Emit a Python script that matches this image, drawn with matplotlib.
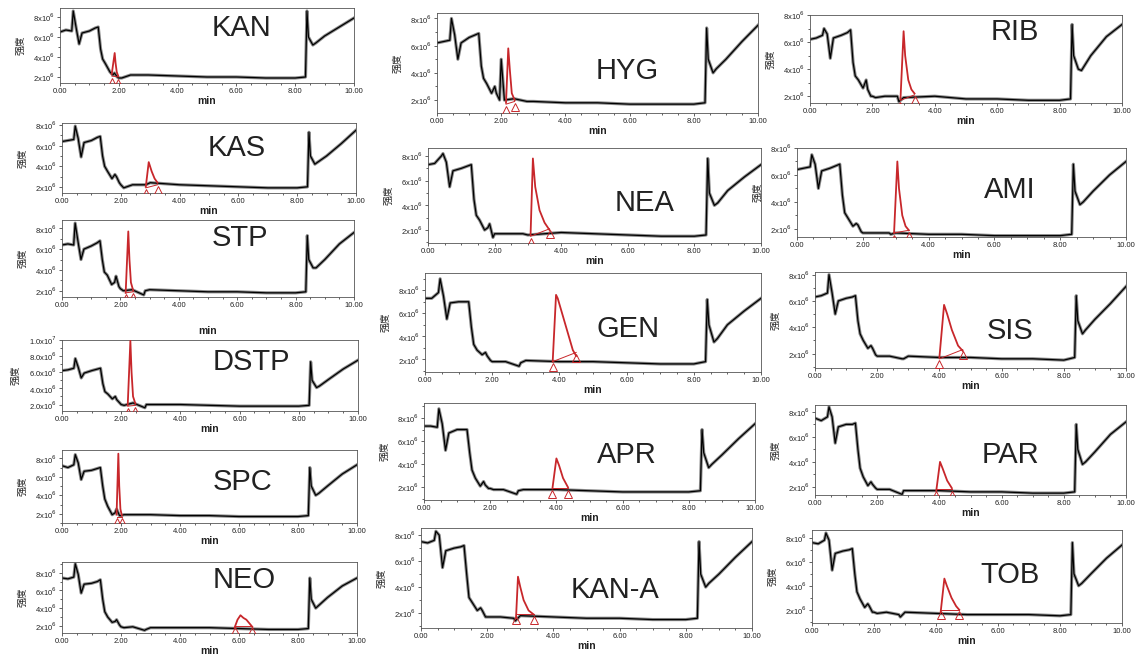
import numpy as np
import matplotlib
matplotlib.use("Agg")
import matplotlib.pyplot as plt
import matplotlib.transforms as mtransforms
from matplotlib.ticker import MultipleLocator

plt.rcParams['font.family'] = ['Liberation Sans', 'Noto Sans CJK SC']

W, H = 1138, 656

# retention time grid shared by all traces (min)
T = [0.0, 0.2, 0.4, 0.45, 0.55, 0.65, 0.75, 1.0, 1.2, 1.3, 1.38, 1.45, 1.55, 1.7, 1.8, 1.85,
     1.95, 2.0, 2.1, 2.4, 2.8, 2.85, 3.0, 4.0, 5.0, 6.0, 7.0, 8.0, 8.35, 8.4, 8.45, 8.6, 8.7,
     9.0, 9.5, 10.0]

# intensities below are in units of 1e6
KAN_Y = [6.5, 6.7, 6.6, 8.6, 6.9, 5.3, 6.4, 6.6, 6.9, 7.0, 4.8, 3.8, 3.3, 2.5, 2.2, 2.4, 2.0, 1.9,
         1.9, 2.2, 2.2, 2.2, 2.2, 2.1, 2.0, 2.0, 1.9, 1.9, 2.0, 8.6, 6.0, 5.2, 5.4, 6.1, 7.0, 7.9]
KAN_PEAK_T = [1.76, 1.86, 1.89, 1.93, 1.98]
KAN_PEAK_Y = [2.3, 4.4, 3.4, 2.5, 2.1]
KAN_BASE = [2.1, 2.0]

KAS_Y = [6.4, 6.5, 6.6, 7.9, 6.7, 4.9, 6.3, 6.5, 6.8, 6.9, 5.0, 4.0, 3.5, 2.8, 3.2, 3.0, 2.4, 2.2,
         1.9, 2.2, 2.2, 2.2, 2.4, 2.2, 2.1, 2.0, 1.9, 1.9, 2.0, 7.3, 5.0, 4.2, 4.4, 5.0, 6.2, 7.5]
KAS_PEAK_T = [2.85, 2.95, 3.05, 3.15, 3.25]
KAS_PEAK_Y = [2.0, 4.4, 3.5, 2.8, 2.4]
KAS_BASE = [1.9, 2.2]

STP_Y = [6.4, 6.5, 6.4, 8.5, 6.7, 5.0, 6.0, 6.3, 6.6, 6.8, 5.0, 3.8, 3.5, 2.6, 2.8, 3.4, 2.4, 2.2,
         2.0, 2.1, 1.6, 2.0, 2.1, 2.0, 1.9, 1.9, 1.8, 1.8, 1.9, 7.3, 5.0, 4.2, 4.2, 5.0, 6.5, 7.6]
STP_PEAK_T = [2.18, 2.27, 2.31, 2.36, 2.44]
STP_PEAK_Y = [1.8, 7.7, 5.0, 2.8, 2.0]
STP_BASE = [1.8, 1.9]

DSTP_Y = [6.2, 6.3, 6.5, 7.7, 6.6, 5.3, 5.9, 6.2, 6.4, 6.5, 4.6, 3.6, 3.3, 2.7, 3.0, 2.6, 2.2, 2.0,
          1.9, 2.2, 1.6, 2.0, 2.0, 2.0, 1.9, 1.8, 1.8, 1.8, 1.9, 7.3, 5.0, 4.1, 4.3, 5.1, 6.4, 7.5]
DSTP_PEAK_T = [2.22, 2.31, 2.35, 2.40, 2.48]
DSTP_PEAK_Y = [1.9, 9.9, 6.0, 3.0, 2.1]
DSTP_BASE = [1.8, 1.9]

SPC_Y = [7.2, 7.0, 7.3, 8.4, 7.5, 5.7, 6.6, 6.7, 6.9, 7.0, 5.0, 3.6, 2.8, 1.9, 2.1, 2.5, 1.8, 1.8,
         1.9, 1.9, 1.9, 1.9, 1.9, 1.8, 1.8, 1.7, 1.7, 1.7, 1.8, 7.0, 5.0, 4.0, 4.2, 5.0, 6.3, 7.3]
SPC_PEAK_T = [1.85, 1.91, 1.94, 1.98, 2.03]
SPC_PEAK_Y = [1.9, 8.5, 5.0, 2.5, 1.8]
SPC_BASE = [1.7, 1.7]

NEO_Y = [7.4, 7.3, 7.5, 9.0, 7.8, 5.7, 6.7, 6.8, 7.0, 7.2, 5.0, 3.6, 3.0, 2.4, 2.5, 2.7, 2.1, 1.9,
         1.8, 1.9, 1.5, 1.6, 1.8, 1.8, 1.8, 1.7, 1.6, 1.6, 1.7, 7.4, 5.0, 4.0, 4.3, 5.2, 6.5, 7.4]
NEO_PEAK_T = [5.85, 5.95, 6.05, 6.15, 6.25, 6.35, 6.45]
NEO_PEAK_Y = [1.8, 2.7, 3.2, 2.9, 2.7, 2.3, 1.9]
NEO_BASE = [2.0, 2.0]

HYG_Y = [6.2, 6.3, 6.4, 8.0, 6.8, 5.0, 6.2, 6.6, 6.8, 6.9, 4.5, 3.6, 3.2, 2.5, 3.0, 2.5, 2.0, 5.0,
         2.0, 2.1, 1.9, 1.9, 1.9, 1.8, 1.8, 1.7, 1.7, 1.7, 1.8, 7.3, 5.0, 4.0, 4.3, 5.0, 6.3, 7.5]
HYG_PEAK_T = [2.15, 2.22, 2.27, 2.33, 2.42]
HYG_PEAK_Y = [1.8, 5.8, 4.2, 2.5, 2.0]
HYG_BASE = [1.7, 1.9]

NEA_Y = [7.3, 7.4, 8.0, 8.2, 7.5, 5.5, 6.8, 7.0, 7.2, 7.3, 4.5, 3.2, 2.8, 2.0, 2.2, 2.5, 1.4, 1.7,
         1.7, 1.7, 1.7, 1.7, 1.6, 1.8, 1.7, 1.6, 1.5, 1.5, 1.6, 7.8, 5.0, 4.0, 4.2, 5.2, 6.3, 7.3]
NEA_PEAK_T = [3.08, 3.15, 3.22, 3.35, 3.5, 3.65]
NEA_PEAK_Y = [1.6, 7.8, 5.5, 3.6, 2.6, 2.0]
NEA_BASE = [1.5, 2.1]

GEN_Y = [7.3, 7.3, 7.8, 9.0, 7.5, 5.5, 6.9, 7.0, 7.0, 7.0, 4.8, 3.3, 2.8, 2.4, 2.6, 2.3, 1.9, 1.8,
         1.8, 1.8, 1.4, 1.7, 1.9, 1.8, 1.8, 1.7, 1.6, 1.6, 1.8, 7.2, 5.0, 3.5, 3.8, 5.0, 6.2, 7.3]
GEN_PEAK_T = [3.8, 3.9, 3.95, 4.1, 4.25, 4.4, 4.5]
GEN_PEAK_Y = [1.8, 7.6, 7.3, 5.8, 4.3, 2.8, 2.3]
GEN_BASE = [1.8, 2.6]

APR_Y = [7.3, 7.3, 7.2, 8.8, 7.5, 5.2, 6.7, 7.0, 7.0, 7.0, 5.0, 3.5, 2.8, 2.1, 2.5, 2.2, 1.9, 1.9,
         1.8, 1.8, 1.4, 1.7, 1.8, 1.8, 1.7, 1.6, 1.6, 1.6, 1.7, 7.0, 5.0, 3.7, 4.0, 4.8, 6.2, 7.5]
APR_PEAK_T = [3.88, 4.0, 4.08, 4.2, 4.35]
APR_PEAK_Y = [1.9, 4.5, 3.9, 2.8, 2.0]
APR_BASE = [1.9, 1.9]

KANA_Y = [7.5, 7.4, 7.6, 8.3, 8.0, 5.5, 6.8, 7.0, 7.1, 7.2, 5.0, 3.2, 2.8, 2.2, 2.4, 2.2, 1.7, 1.7,
          1.7, 1.7, 1.6, 1.4, 1.8, 1.7, 1.6, 1.6, 1.5, 1.5, 1.6, 7.5, 5.0, 4.0, 4.3, 5.0, 6.3, 7.5]
KANA_PEAK_T = [2.87, 2.93, 3.0, 3.1, 3.25, 3.4]
KANA_PEAK_Y = [1.6, 4.8, 4.0, 3.0, 2.2, 1.9]
KANA_BASE = [1.9, 1.9]

RIB_Y = [6.2, 6.3, 6.5, 7.0, 6.6, 4.8, 6.3, 6.5, 6.7, 6.9, 4.5, 3.5, 3.2, 2.6, 3.2, 2.5, 2.0, 2.0,
         1.9, 2.0, 2.0, 1.6, 1.9, 2.0, 1.8, 1.8, 1.7, 1.7, 1.8, 7.3, 5.0, 4.0, 3.9, 5.0, 6.4, 7.3]
RIB_PEAK_T = [2.9, 3.0, 3.05, 3.15, 3.25, 3.35]
RIB_PEAK_Y = [1.8, 6.8, 5.0, 3.2, 2.5, 2.2]
RIB_BASE = [1.7, 2.1]

AMI_Y = [6.4, 6.5, 6.6, 7.5, 6.8, 5.0, 6.3, 6.5, 6.7, 6.8, 4.5, 3.2, 2.8, 2.2, 2.4, 2.3, 1.8, 1.7,
         1.7, 1.7, 1.7, 1.6, 1.7, 1.6, 1.6, 1.5, 1.5, 1.5, 1.6, 6.8, 4.8, 3.8, 4.0, 4.8, 6.0, 7.0]
AMI_PEAK_T = [2.95, 3.05, 3.1, 3.2, 3.3, 3.4]
AMI_PEAK_Y = [1.7, 7.0, 5.0, 3.0, 2.2, 1.9]
AMI_BASE = [1.7, 1.9]

SIS_Y = [6.3, 6.4, 6.6, 8.0, 6.6, 5.0, 6.0, 6.2, 6.3, 6.4, 4.5, 3.5, 3.0, 2.4, 2.6, 2.4, 1.9, 1.8,
         1.8, 1.8, 1.6, 1.6, 1.8, 1.7, 1.7, 1.6, 1.6, 1.5, 1.7, 6.4, 4.5, 3.5, 3.8, 4.6, 5.8, 7.1]
SIS_PEAK_T = [4.0, 4.15, 4.25, 4.4, 4.6, 4.75]
SIS_PEAK_Y = [1.7, 5.7, 5.0, 3.8, 2.6, 2.2]
SIS_BASE = [1.6, 2.3]

PAR_Y = [7.5, 7.3, 7.6, 8.4, 7.6, 5.5, 6.8, 7.0, 7.0, 7.1, 5.0, 3.5, 2.8, 2.1, 2.4, 2.2, 1.9, 1.8,
         1.8, 1.8, 1.4, 1.7, 1.7, 1.7, 1.6, 1.6, 1.5, 1.5, 1.6, 7.0, 5.0, 3.8, 4.0, 4.8, 6.2, 7.2]
PAR_PEAK_T = [3.9, 4.02, 4.1, 4.25, 4.4]
PAR_PEAK_Y = [1.7, 4.0, 3.5, 2.5, 1.9]
PAR_BASE = [1.8, 1.8]

TOB_Y = [7.6, 7.5, 7.8, 8.4, 7.8, 5.3, 6.7, 6.9, 7.0, 7.1, 5.0, 3.5, 2.9, 2.2, 2.5, 2.3, 1.8, 1.8,
         1.7, 1.8, 1.6, 1.4, 1.8, 1.7, 1.6, 1.6, 1.6, 1.5, 1.6, 7.6, 5.0, 4.0, 4.2, 5.0, 6.3, 7.4]
TOB_PEAK_T = [4.15, 4.27, 4.35, 4.5, 4.65, 4.75]
TOB_PEAK_Y = [1.8, 4.6, 4.0, 3.0, 2.3, 2.0]
TOB_BASE = [2.0, 2.0]

X_TICKS = [0, 2, 4, 6, 8, 10]
X_LABELS = ['0.00', '2.00', '4.00', '6.00', '8.00', '10.00']
Y_TICKS = [2, 4, 6, 8]
DSTP_Y_TICKS = [2, 4, 6, 8, 10]

# name, data, y range, axes box in pixels (left, top, right, bottom), label centre, xlabel pad
panels = [
    ('KAN', KAN_Y, KAN_PEAK_T, KAN_PEAK_Y, KAN_BASE, (1.4, 8.9), (60, 8, 354, 83), (241, 28), 1),
    ('KAS', KAS_Y, KAS_PEAK_T, KAS_PEAK_Y, KAS_BASE, (1.4, 8.2), (62, 123, 356, 193), (237, 148), 1),
    ('STP', STP_Y, STP_PEAK_T, STP_PEAK_Y, STP_BASE, (1.4, 8.8), (62, 220, 354, 297), (240, 238), 12),
    ('DSTP', DSTP_Y, DSTP_PEAK_T, DSTP_PEAK_Y, DSTP_BASE, (1.2, 10.0), (62, 340, 358, 411), (251, 362), 1),
    ('SPC', SPC_Y, SPC_PEAK_T, SPC_PEAK_Y, SPC_BASE, (1.0, 8.9), (62, 450, 357, 523), (243, 482), 1),
    ('NEO', NEO_Y, NEO_PEAK_T, NEO_PEAK_Y, NEO_BASE, (1.2, 9.2), (62, 562, 357, 633), (244, 580), 1),
    ('HYG', HYG_Y, HYG_PEAK_T, HYG_PEAK_Y, HYG_BASE, (1.05, 8.4), (437, 13, 758, 113), (627, 71), 1),
    ('NEA', NEA_Y, NEA_PEAK_T, NEA_PEAK_Y, NEA_BASE, (0.95, 8.65), (428, 148, 761, 243), (645, 203), 1),
    ('GEN', GEN_Y, GEN_PEAK_T, GEN_PEAK_Y, GEN_BASE, (0.9, 9.5), (425, 273, 761, 372), (628, 329), 1),
    ('APR', APR_Y, APR_PEAK_T, APR_PEAK_Y, APR_BASE, (0.9, 9.3), (424, 403, 755, 500), (627, 455), 1),
    ('KAN-A', KANA_Y, KANA_PEAK_T, KANA_PEAK_Y, KANA_BASE, (0.85, 8.55), (421, 528, 752, 628), (615, 590), 1),
    ('RIB', RIB_Y, RIB_PEAK_T, RIB_PEAK_Y, RIB_BASE, (1.5, 8.0), (810, 15, 1122, 103), (1015, 32), 1),
    ('AMI', AMI_Y, AMI_PEAK_T, AMI_PEAK_Y, AMI_BASE, (1.4, 8.0), (797, 148, 1126, 237), (1010, 190), 1),
    ('SIS', SIS_Y, SIS_PEAK_T, SIS_PEAK_Y, SIS_BASE, (0.9, 8.2), (815, 272, 1126, 368), (1010, 331), 1),
    ('PAR', PAR_Y, PAR_PEAK_T, PAR_PEAK_Y, PAR_BASE, (1.35, 8.55), (815, 405, 1126, 495), (1010, 455), 1),
    ('TOB', TOB_Y, TOB_PEAK_T, TOB_PEAK_Y, TOB_BASE, (0.9, 8.65), (812, 530, 1122, 623), (1010, 575), 1),
]

fig = plt.figure(figsize=(W / 100, H / 100), dpi=100)
fig.patch.set_facecolor('white')
red = '#c8272b'
tri_shift = mtransforms.ScaledTranslation(0, -4 / 72, fig.dpi_scale_trans)

for name, ys, pt, py, base, ylim, box, lab, pad in panels:
    l, t, r, b = box
    ax = fig.add_axes([l / W, 1 - b / H, (r - l) / W, (b - t) / H])
    y = np.array(ys) * 1e6
    # grey halo under the black line stands in for the detector noise band
    ax.plot(T, y, color='#8a8a8a', lw=2.3, zorder=1)
    ax.plot(T, y, color='black', lw=0.9, zorder=2)
    ax.plot(pt, np.array(py) * 1e6, color=red, lw=1.3, zorder=3)
    ax.plot([pt[0], pt[-1]], np.array(base) * 1e6, color=red, lw=0.7, zorder=3)
    ax.plot([pt[0], pt[-1]], np.array(base) * 1e6, ls='none', marker='^', ms=5.5,
            mfc='none', mec=red, mew=0.7, zorder=4, transform=ax.transData + tri_shift)

    ax.set_xlim(0, 10)
    ax.set_ylim(ylim[0] * 1e6, ylim[1] * 1e6)
    ax.set_xticks(X_TICKS)
    ax.set_xticklabels(X_LABELS)
    ax.xaxis.set_minor_locator(MultipleLocator(0.5))
    if name == 'DSTP':
        ax.set_yticks([v * 1e6 for v in DSTP_Y_TICKS])
        ax.set_yticklabels(['2.0x10$^6$', '4.0x10$^6$', '6.0x10$^6$', '8.0x10$^6$', '1.0x10$^7$'])
    else:
        ax.set_yticks([v * 1e6 for v in Y_TICKS])
        ax.set_yticklabels([f'{v}x10$^6$' for v in Y_TICKS])
    ax.yaxis.set_minor_locator(MultipleLocator(1e6))
    ax.tick_params(which='both', labelsize=5.5, length=2, width=0.5, pad=1.5, colors='#222222')
    ax.tick_params(which='minor', length=1.2)
    for s in ax.spines.values():
        s.set_linewidth(0.6)
        s.set_color('#555555')
    ax.set_xlabel('min', fontsize=7.5, fontweight='bold', labelpad=pad, color='#222222')
    ax.set_ylabel('强度', fontsize=7, labelpad=6, color='#222222')

    fig.text(lab[0] / W, 1 - lab[1] / H, name, fontsize=21, ha='center', va='center',
             color='#222222')

fig.savefig('out.png', dpi=100, facecolor='white')
